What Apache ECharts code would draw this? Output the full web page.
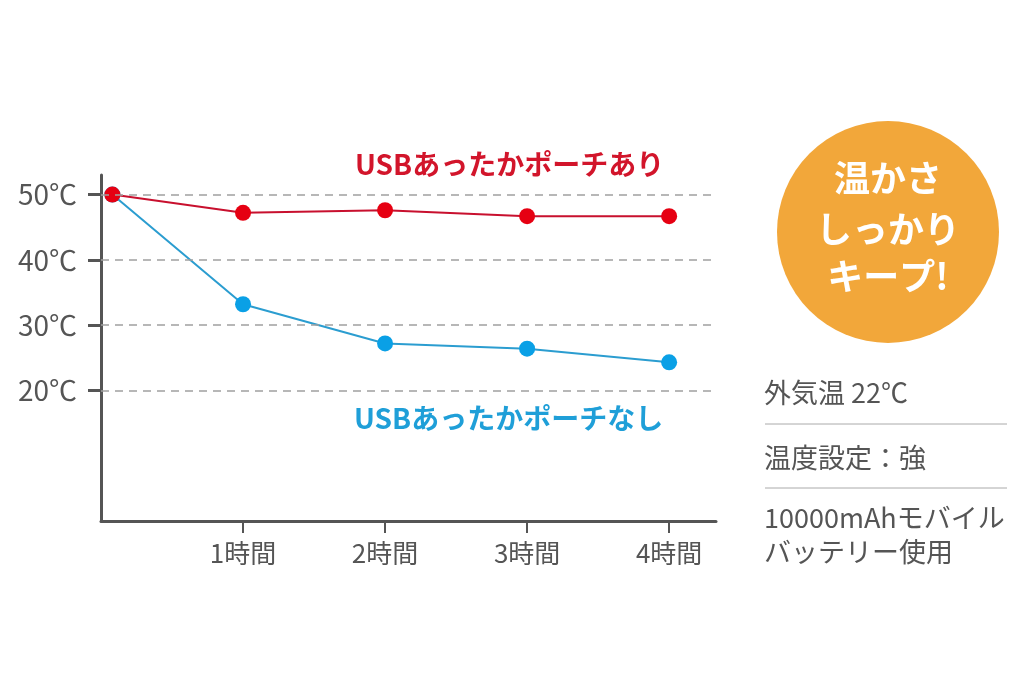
<!DOCTYPE html>
<html><head><meta charset="utf-8">
<script src="https://cdn.jsdelivr.net/npm/echarts@6/dist/echarts.min.js"></script>
<style>html,body{margin:0;padding:0;background:#fff}#c{width:1024px;height:683px}</style>
</head><body><div id="c"></div>
<script>
const hours = [0.08, 1, 2, 3, 4];
const xTickValues = [1, 2, 3, 4];
const xTickLabels = ['1時間', '2時間', '3時間', '4時間'];
const yTickValues = [20, 30, 40, 50];
const withPouch = [50, 47.2, 47.6, 46.7, 46.7];
const withoutPouch = [50, 33.2, 27.2, 26.4, 24.3];
const nameWith = 'USBあったかポーチあり';
const nameWithout = 'USBあったかポーチなし';
const badgeLines = ['温かさ', 'しっかり', 'キープ!'];
const notes = ['外気温 22℃', '温度設定：強', '10000mAhモバイル\nバッテリー使用'];

const FONT = '"Noto Sans CJK JP", "Noto Sans", sans-serif';
const GRAY = '#555555';
const RED = '#e60012', RED_LINE = '#c8102e', BLUE = '#0aa0e6', BLUE_LINE = '#2b9dd0';

const chart = echarts.init(document.getElementById('c'));
chart.setOption({
  backgroundColor: '#fff',
  animation: false,
  grid: { left: 101, right: 308, top: 175, bottom: 162 },
  xAxis: {
    type: 'value', min: 0, max: 4.33,
    axisLine: { show: true, lineStyle: { color: GRAY, width: 3 } },
    axisTick: { show: true, customValues: xTickValues, length: 12, lineStyle: { color: GRAY, width: 2 } },
    axisLabel: { show: true, customValues: xTickValues, margin: 19, color: GRAY, fontSize: 26, fontFamily: FONT,
      formatter: v => xTickLabels[xTickValues.indexOf(Math.round(v))] || '' },
    splitLine: { show: false }
  },
  yAxis: {
    type: 'value', min: 0, max: 53,
    axisLine: { show: true, lineStyle: { color: GRAY, width: 3 } },
    axisTick: { show: true, customValues: yTickValues, length: 13, lineStyle: { color: GRAY, width: 3 } },
    axisLabel: { show: true, customValues: yTickValues, margin: 24, color: GRAY, fontSize: 28, fontFamily: FONT,
      formatter: v => v + '℃' },
    splitLine: { show: false }
  },
  series: [
    {
      name: nameWithout, type: 'line', z: 3,
      data: hours.map((h, i) => [h, withoutPouch[i]]),
      symbol: 'circle', symbolSize: 16,
      itemStyle: { color: BLUE },
      lineStyle: { color: BLUE_LINE, width: 2 },
      markLine: {
        silent: true, symbol: 'none', label: { show: false },
        lineStyle: { color: '#a0a0a0', type: [8, 6], width: 1.5 },
        data: yTickValues.map(v => ({ yAxis: v }))
      }
    },
    {
      name: nameWith, type: 'line', z: 4,
      data: hours.map((h, i) => [h, withPouch[i]]),
      symbol: 'circle', symbolSize: 16,
      itemStyle: { color: RED },
      lineStyle: { color: RED_LINE, width: 2 }
    }
  ],
  graphic: [
    { type: 'text', x: 355, y: 164, style: { text: nameWith, fill: '#d2152b', font: 'bold 28px ' + FONT, verticalAlign: 'middle' } },
    { type: 'text', x: 354, y: 418, style: { text: nameWithout, fill: '#1f9fd8', font: 'bold 28px ' + FONT, verticalAlign: 'middle' } },
    { type: 'circle', shape: { cx: 888, cy: 232, r: 111 }, style: { fill: '#f2a73a' } },
    { type: 'text', x: 888, y: 178, style: { text: badgeLines[0], fill: '#fff', font: 'bold 36px ' + FONT, align: 'center', verticalAlign: 'middle' } },
    { type: 'text', x: 888, y: 229, style: { text: badgeLines[1], fill: '#fff', font: 'bold 36px ' + FONT, align: 'center', verticalAlign: 'middle' } },
    { type: 'text', x: 888, y: 276, style: { text: badgeLines[2], fill: '#fff', font: 'bold 36px ' + FONT, align: 'center', verticalAlign: 'middle' } },
    { type: 'text', x: 764, y: 393, style: { text: notes[0], fill: GRAY, font: '27px ' + FONT, verticalAlign: 'middle' } },
    { type: 'line', shape: { x1: 765, y1: 424, x2: 1007, y2: 424 }, style: { stroke: '#aaaaaa', lineWidth: 1 } },
    { type: 'text', x: 764, y: 458, style: { text: notes[1], fill: GRAY, font: '27px ' + FONT, verticalAlign: 'middle' } },
    { type: 'line', shape: { x1: 765, y1: 488, x2: 1007, y2: 488 }, style: { stroke: '#aaaaaa', lineWidth: 1 } },
    { type: 'text', x: 764, y: 501, style: { text: notes[2], fill: GRAY, font: '27px ' + FONT, lineHeight: 34 } }
  ]
});
</script>
</body></html>
